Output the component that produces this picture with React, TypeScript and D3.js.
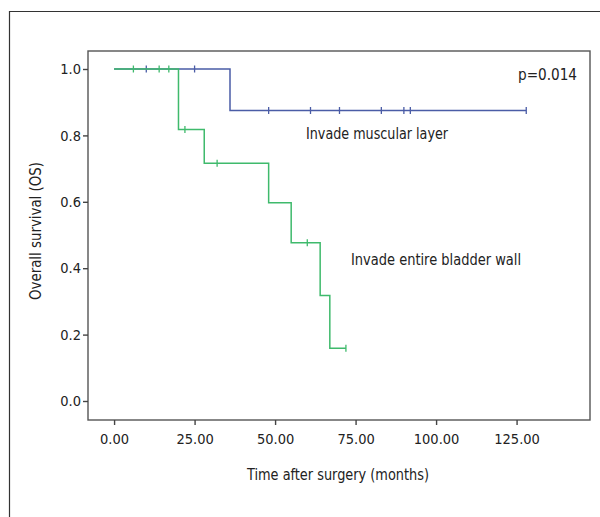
import React, { useEffect, useRef } from 'react'
import * as d3 from 'd3'

// Kaplan-Meier step data (time in months, survival after the drop)
const muscularTimes = [0, 36, 128]
const muscularSurv = [1.0, 0.875, 0.875]
const muscularCensor = [10, 25, 48, 61, 70, 83, 90, 92, 128]

const wallTimes = [0, 20, 28, 48, 55, 64, 67, 72]
const wallSurv = [1.0, 0.818, 0.716, 0.597, 0.477, 0.318, 0.159, 0.159]
const wallCensor = [6, 14, 17, 22, 32, 60, 72]

const xTicks = [0, 25, 50, 75, 100, 125]
const yTicks = [0, 0.2, 0.4, 0.6, 0.8, 1.0]

const FONT = '"DejaVu Sans Condensed", "Liberation Sans Narrow", sans-serif'

const App = () => {
    const svgRef = useRef<SVGSVGElement>(null)

    useEffect(() => {
        const svg = d3.select(svgRef.current)
        svg.selectAll('*').remove()

        const width = 600
        const height = 517
        const box = { left: 88, right: 590, top: 51, bottom: 420 }

        const x = d3.scaleLinear().domain([-8.1, 147.8]).range([box.left, box.right])
        const y = d3.scaleLinear().domain([0, 1]).range([401, 69])

        svg.attr('width', width).attr('height', height)

        // outer figure frame (left and top only)
        svg.append('path')
            .attr('d', `M9.5,${height}V11.5H${width}`)
            .attr('fill', 'none')
            .attr('stroke', '#333')
            .attr('stroke-width', 1.2)

        // plot frame
        svg.append('rect')
            .attr('x', box.left)
            .attr('y', box.top)
            .attr('width', box.right - box.left)
            .attr('height', box.bottom - box.top)
            .attr('fill', 'none')
            .attr('stroke', '#555')
            .attr('stroke-width', 1.4)

        // axes
        const xAxis = svg.append('g')
            .attr('transform', `translate(0,${box.bottom})`)
            .call(d3.axisBottom(x).tickValues(xTicks).tickSize(5).tickPadding(9).tickFormat(d3.format('.2f')))
        const yAxis = svg.append('g')
            .attr('transform', `translate(${box.left},0)`)
            .call(d3.axisLeft(y).tickValues(yTicks).tickSize(5).tickPadding(2).tickFormat(d3.format('.1f')))

        for (const ax of [xAxis, yAxis]) {
            ax.select('.domain').remove()
            ax.selectAll('line').attr('stroke', '#444').attr('stroke-width', 1.4)
            ax.selectAll('text')
                .attr('fill', '#222')
                .style('font-family', FONT)
                .style('font-size', '14.5px')
        }

        // axis titles
        svg.append('text')
            .attr('x', 338)
            .attr('y', 480)
            .attr('text-anchor', 'middle')
            .attr('textLength', 182)
            .attr('lengthAdjust', 'spacingAndGlyphs')
            .style('font-family', FONT)
            .style('font-size', '16.5px')
            .attr('fill', '#222')
            .text('Time after surgery (months)')

        svg.append('text')
            .attr('transform', `translate(41,231) rotate(-90)`)
            .attr('text-anchor', 'middle')
            .attr('textLength', 138)
            .attr('lengthAdjust', 'spacingAndGlyphs')
            .style('font-family', FONT)
            .style('font-size', '16px')
            .attr('fill', '#222')
            .text('Overall survival (OS)')

        const drawCurve = (times: number[], surv: number[], censor: number[], color: string) => {
            const pts = times.map((t, i) => [x(t), y(surv[i])] as [number, number])
            svg.append('path')
                .attr('d', d3.line().curve(d3.curveStepAfter)(pts))
                .attr('fill', 'none')
                .attr('stroke', color)
                .attr('stroke-width', 1.5)

            // survival at each censor time
            const survAt = (t: number) => {
                let s = surv[0]
                times.forEach((tt, i) => { if (tt <= t) s = surv[i] })
                return s
            }
            svg.append('g')
                .selectAll('line')
                .data(censor)
                .join('line')
                .attr('x1', d => x(d))
                .attr('x2', d => x(d))
                .attr('y1', d => y(survAt(d)) - 3.5)
                .attr('y2', d => y(survAt(d)) + 3.5)
                .attr('stroke', color)
                .attr('stroke-width', 1.3)
        }

        drawCurve(muscularTimes, muscularSurv, muscularCensor, '#4a5ca6')
        drawCurve(wallTimes, wallSurv, wallCensor, '#3fba6c')

        // annotations
        const ann = [
            { text: 'p=0.014', x: 518, y: 80, w: 59 },
            { text: 'Invade muscular layer', x: 306, y: 139, w: 142 },
            { text: 'Invade entire bladder wall', x: 351, y: 265, w: 170 },
        ]
        svg.append('g')
            .selectAll('text')
            .data(ann)
            .join('text')
            .attr('x', d => d.x)
            .attr('y', d => d.y)
            .attr('textLength', d => d.w)
            .attr('lengthAdjust', 'spacingAndGlyphs')
            .style('font-family', FONT)
            .style('font-size', '16.5px')
            .attr('fill', '#222')
            .text(d => d.text)
    }, [])

    return (
        <svg ref={svgRef} style={{ position: 'absolute', left: 0, top: 0, display: 'block', background: '#fff' }} />
    )
}

export default App
